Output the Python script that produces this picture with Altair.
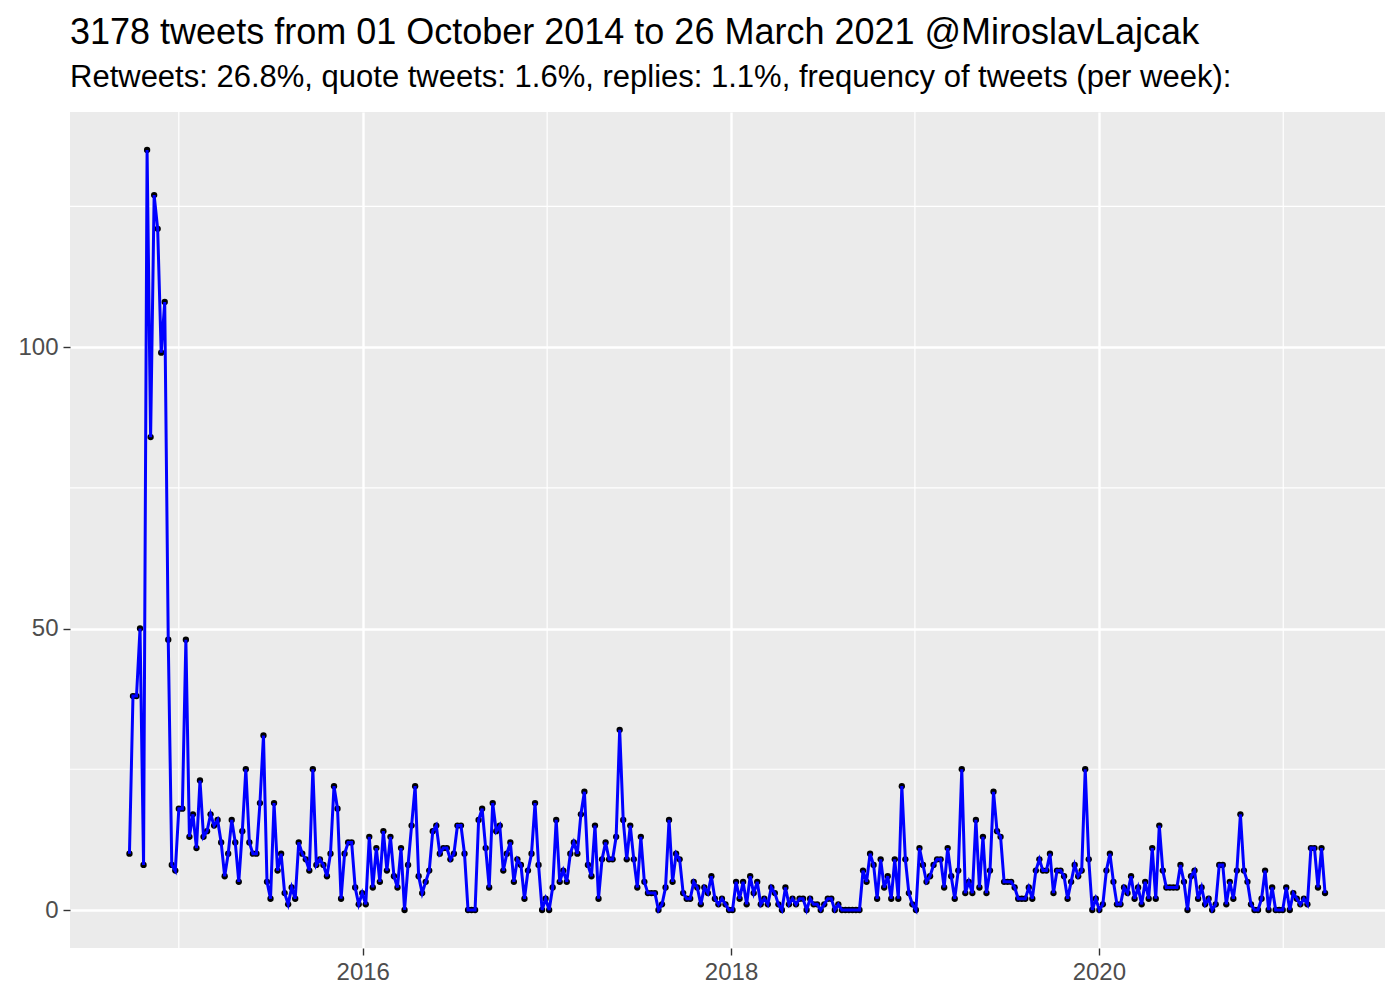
import altair as alt
import pandas as pd

# weekly tweet counts
counts = [
    10, 38, 38, 50, 8, 135, 84, 127, 121, 99,
    108, 48, 8, 7, 18, 18, 48, 13, 17, 11,
    23, 13, 14, 17, 15, 16, 12, 6, 10, 16,
    12, 5, 14, 25, 12, 10, 10, 19, 31, 5,
    2, 19, 7, 10, 3, 1, 4, 2, 12, 10,
    9, 7, 25, 8, 9, 8, 6, 10, 22, 18,
    2, 10, 12, 12, 4, 1, 3, 1, 13, 4,
    11, 5, 14, 7, 13, 6, 4, 11, 0, 8,
    15, 22, 6, 3, 5, 7, 14, 15, 10, 11,
    11, 9, 10, 15, 15, 10, 0, 0, 0, 16,
    18, 11, 4, 19, 14, 15, 7, 10, 12, 5,
    9, 8, 2, 7, 10, 19, 8, 0, 2, 0,
    4, 16, 5, 7, 5, 10, 12, 10, 17, 21,
    8, 6, 15, 2, 9, 12, 9, 9, 13, 32,
    16, 9, 15, 9, 4, 13, 5, 3, 3, 3,
    0, 1, 4, 16, 5, 10, 9, 3, 2, 2,
    5, 4, 1, 4, 3, 6, 2, 1, 2, 1,
    0, 0, 5, 2, 5, 1, 6, 3, 5, 1,
    2, 1, 4, 3, 1, 0, 4, 1, 2, 1,
    2, 2, 0, 2, 1, 1, 0, 1, 2, 2,
    0, 1, 0, 0, 0, 0, 0, 0, 7, 5,
    10, 8, 2, 9, 4, 6, 2, 9, 2, 22,
    9, 3, 1, 0, 11, 8, 5, 6, 8, 9,
    9, 4, 11, 6, 2, 7, 25, 3, 5, 3,
    16, 4, 13, 3, 7, 21, 14, 13, 5, 5,
    5, 4, 2, 2, 2, 4, 2, 7, 9, 7,
    7, 10, 3, 7, 7, 6, 2, 5, 8, 6,
    7, 25, 9, 0, 2, 0, 1, 7, 10, 5,
    1, 1, 4, 3, 6, 2, 4, 1, 5, 2,
    11, 2, 15, 7, 4, 4, 4, 4, 8, 5,
    0, 6, 7, 2, 4, 1, 2, 0, 1, 8,
    8, 1, 5, 2, 7, 17, 7, 5, 1, 0,
    0, 2, 7, 0, 4, 0, 0, 0, 4, 0,
    3, 2, 1, 2, 1, 11, 11, 4, 11, 3,
]
first_week = "2014-09-25"
weeks = pd.date_range(first_week, periods=len(counts), freq="7D")

minor_x = ["2015-01-01", "2017-01-01", "2019-01-01", "2021-01-01"]
minor_y = [25, 75, 125]

title_text = "3178 tweets from 01 October 2014 to 26 March 2021 @MiroslavLajcak"
subtitle_text = "Retweets: 26.8%, quote tweets: 1.6%, replies: 1.1%, frequency of tweets (per week):"

df = pd.DataFrame({"date": weeks.strftime("%Y-%m-%dT00:00:00"), "n": counts})
mx = pd.DataFrame({"date": [d + "T00:00:00" for d in minor_x]})
my = pd.DataFrame({"v": minor_y})

FONT = "Liberation Sans"
xdom = [alt.DateTime(year=2014, month=5, date=30), alt.DateTime(year=2021, month=7, date=22)]
ydom = [-6.75, 141.75]

xscale = alt.Scale(domain=xdom)
yscale = alt.Scale(domain=ydom, nice=False, zero=False)

xaxis = alt.Axis(
    values=[alt.DateTime(year=2016, month=1, date=1),
            alt.DateTime(year=2018, month=1, date=1),
            alt.DateTime(year=2020, month=1, date=1)],
    format="%Y", title=None, labelAngle=0,
)
yaxis = alt.Axis(values=[0, 50, 100], title=None)

minor_x_rules = alt.Chart(mx).mark_rule(color="white", strokeWidth=1.2).encode(
    x=alt.X("date:T", scale=xscale, axis=xaxis)
)
minor_y_rules = alt.Chart(my).mark_rule(color="white", strokeWidth=1.2).encode(
    y=alt.Y("v:Q", scale=yscale, axis=yaxis)
)

base = alt.Chart(df).encode(
    x=alt.X("date:T", scale=xscale, axis=xaxis),
    y=alt.Y("n:Q", scale=yscale, axis=yaxis),
)
pts = base.mark_circle(color="black", size=40, opacity=1)
line = base.mark_line(color="#0000FF", strokeWidth=3)

chart = alt.layer(minor_x_rules, minor_y_rules, pts, line).properties(
    width=1315,
    height=836,
    title=alt.TitleParams(text=title_text, subtitle=subtitle_text, anchor="start", frame="group"),
    autosize=alt.AutoSizeParams(type="none"),
    padding={"left": 62, "top": 104, "right": 7, "bottom": 44},
).configure_view(
    fill="#EBEBEB", strokeWidth=0
).configure_axis(
    domain=False,
    grid=True, gridColor="white", gridWidth=2.4,
    tickColor="#333333", tickSize=7, tickWidth=1.4,
    labelColor="#4D4D4D", labelFont=FONT, labelFontSize=24, labelPadding=5,
).configure_title(
    font=FONT, fontSize=36, fontWeight="normal", color="black",
    subtitleFont=FONT, subtitleFontSize=31, subtitleColor="black",
    subtitlePadding=11, offset=17,
)

chart.save("out.html", embed_options={"renderer": "svg", "actions": False})
